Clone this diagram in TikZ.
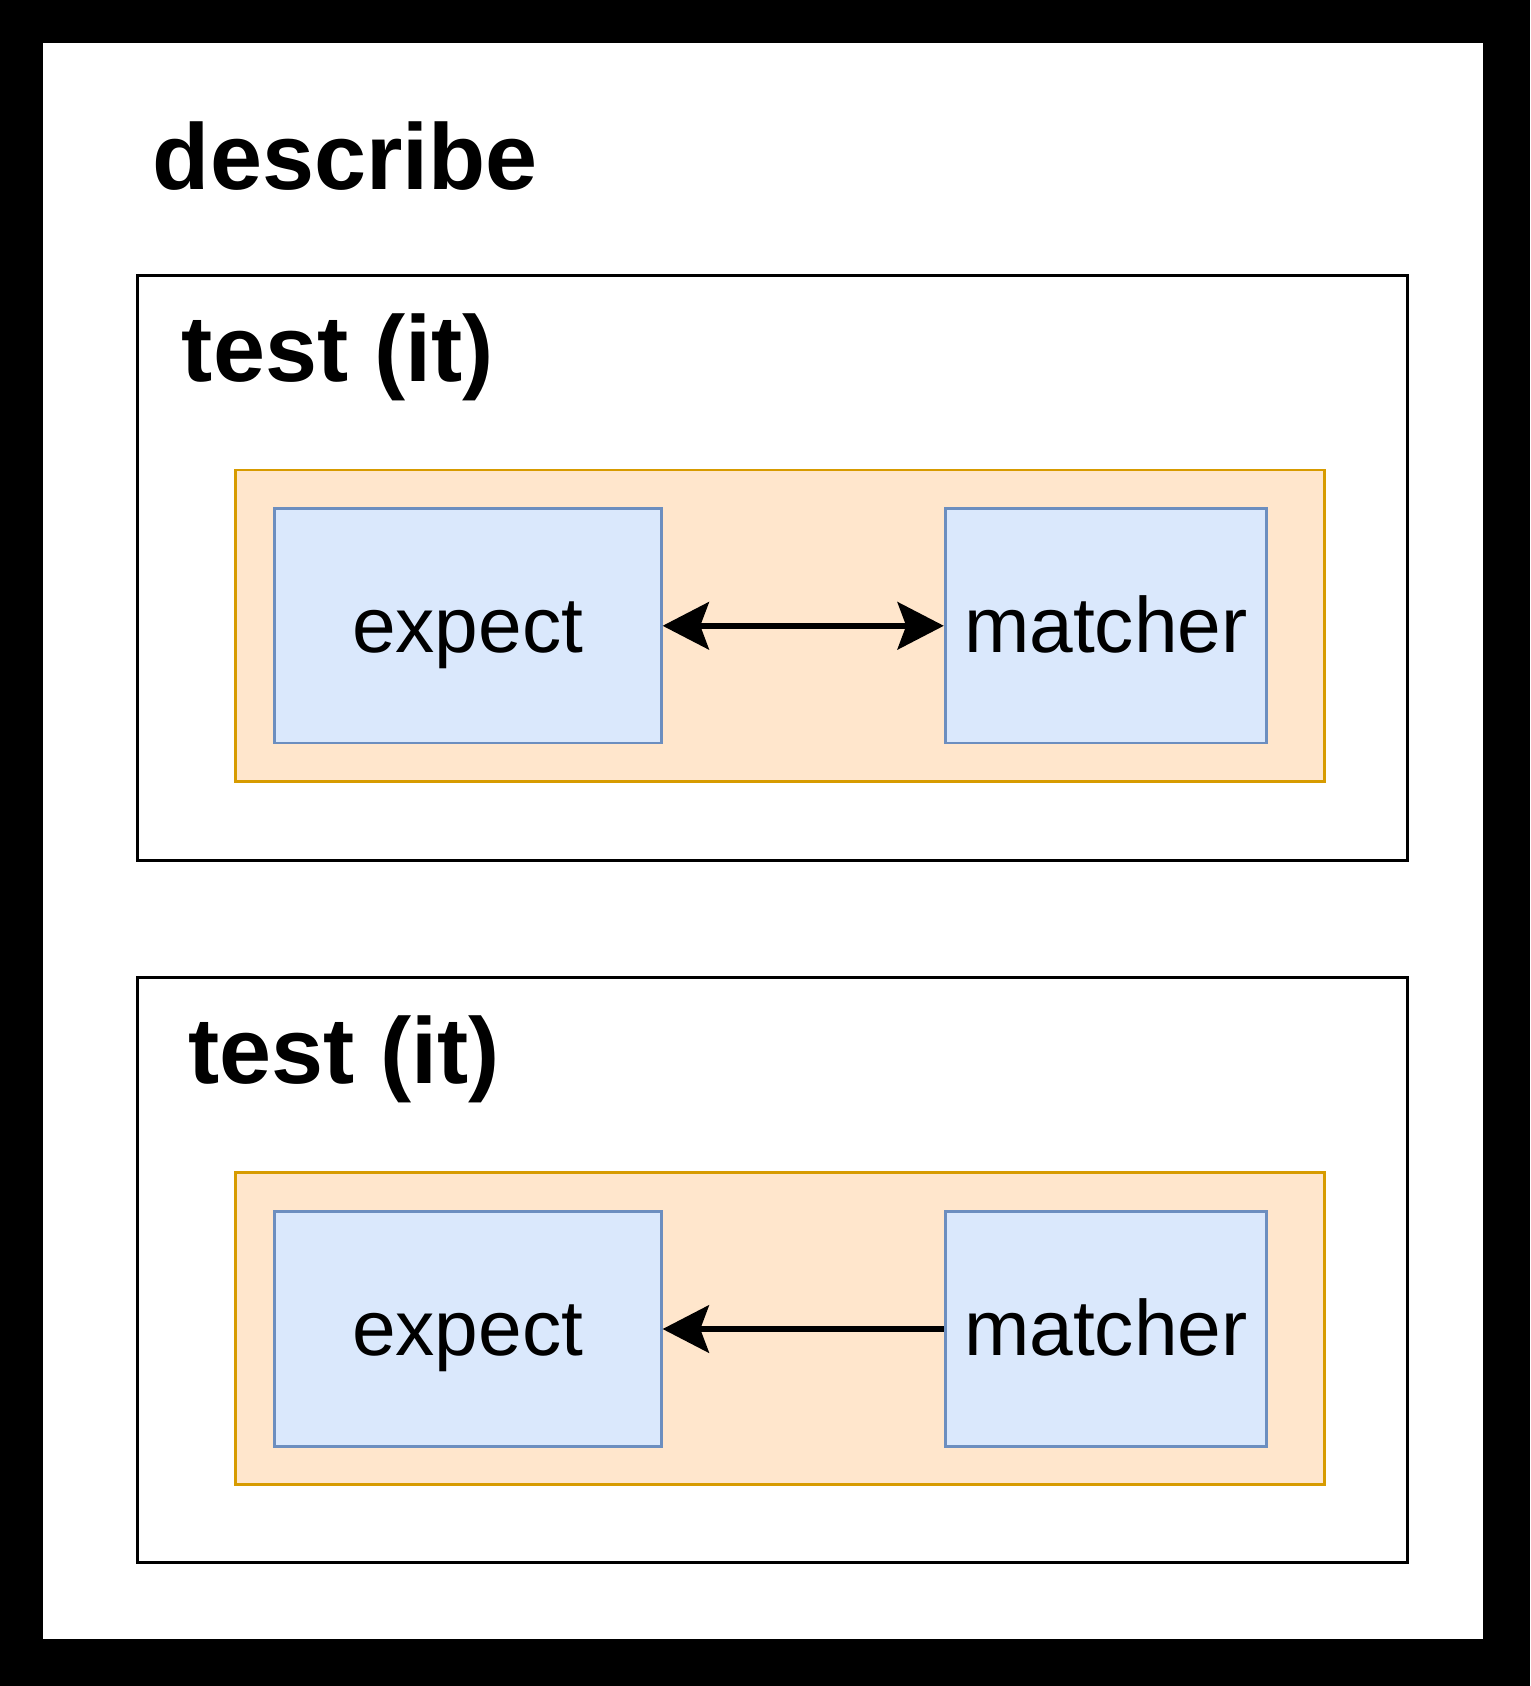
\documentclass[tikz,border=0pt]{standalone}
\usepackage{fontspec}
\setmainfont{Liberation Sans}
\usetikzlibrary{arrows.meta}
\definecolor{orangefill}{HTML}{FFE6CC}
\definecolor{orangeline}{HTML}{D79B00}
\definecolor{bluefill}{HTML}{DAE8FC}
\definecolor{blueline}{HTML}{6C8EBF}
\begin{document}
\begin{tikzpicture}[x=1pt, y=-1pt,
  testbox/.style={draw=black, line width=2.5pt, minimum width=1181pt, minimum height=544pt, inner sep=0pt},
  groupbox/.style={draw=orangeline, fill=orangefill, line width=2.5pt, minimum width=1013pt, minimum height=290pt, inner sep=0pt},
  partbox/.style={draw=blueline, fill=bluefill, line width=2.5pt, minimum height=218pt, inner sep=0pt, text height=55pt, text depth=5pt, font=\fontsize{73}{87}\selectfont},
  title/.style={anchor=base west, inner sep=0pt, font=\bfseries\fontsize{87}{104}\selectfont},
  link/.style={line width=5.5pt}]
\useasboundingbox (0,0) rectangle (1423,1568);
\fill[black] (0,0) rectangle (1423,1568);
\fill[white] (40,40) rectangle (1379,1524);
\node[title] (describe) at (142,176) {describe};
% first test
\node[testbox] (test1) at (718.5,528) {};
\node[title] (title1) at (169,355) {test (it)};
\node[groupbox] (group1) at (725.5,582) {};
\node[partbox, minimum width=360pt] (expect1) at (435,582) {expect};
\node[partbox, minimum width=299pt] (matcher1) at (1028.5,582) {matcher};
\draw[link, {Stealth[length=43pt, width=44pt, inset=8pt]}-{Stealth[length=43pt, width=44pt, inset=8pt]}] (expect1) -- (matcher1);
% second test
\node[testbox] (test2) at (718.5,1181) {};
\node[title] (title2) at (175,1008) {test (it)};
\node[groupbox] (group2) at (725.5,1235.5) {};
\node[partbox, minimum width=360pt] (expect2) at (435,1236) {expect};
\node[partbox, minimum width=299pt] (matcher2) at (1028.5,1236) {matcher};
\draw[link, -{Stealth[length=43pt, width=44pt, inset=8pt]}] (matcher2) -- (expect2);
\end{tikzpicture}
\end{document}
